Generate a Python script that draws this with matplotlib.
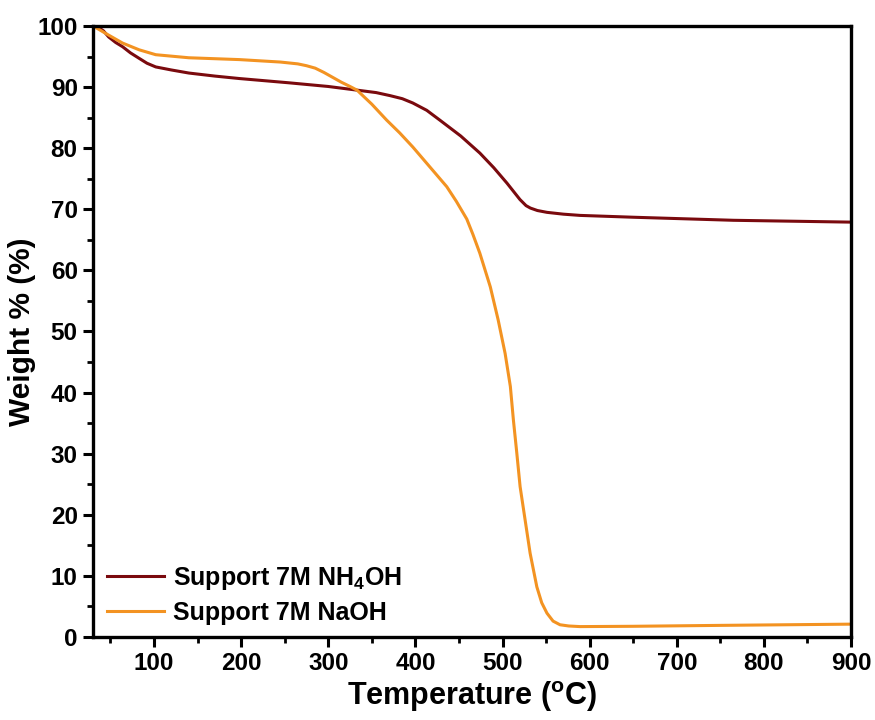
import matplotlib
matplotlib.use("Agg")
import matplotlib.pyplot as plt
from matplotlib.ticker import MultipleLocator

plt.rcParams['font.family'] = ['Liberation Sans', 'DejaVu Sans']
plt.rcParams['font.weight'] = 'bold'
plt.rcParams['mathtext.fontset'] = 'custom'
plt.rcParams['mathtext.rm'] = 'Liberation Sans:bold'
plt.rcParams['mathtext.bf'] = 'Liberation Sans:bold'
plt.rcParams['mathtext.it'] = 'Liberation Sans:bold'

# TGA curves: temperature (°C) vs. remaining weight (%)
temp_nh4oh = [30, 36, 42, 48, 56, 64, 73, 83, 92, 102, 120, 140, 170, 198, 255,
              300, 333, 355, 371, 385, 397, 413, 428, 452, 474, 490, 505, 520,
              527, 532, 540, 551, 570, 589, 650, 765, 900]
weight_nh4oh = [100, 99.8, 99.2, 98.2, 97.3, 96.6, 95.6, 94.7, 93.9, 93.3, 92.8,
                92.3, 91.8, 91.4, 90.7, 90.1, 89.5, 89.1, 88.6, 88.1, 87.4, 86.2,
                84.6, 82.0, 79.2, 76.8, 74.3, 71.6, 70.6, 70.2, 69.8, 69.5, 69.2,
                69.0, 68.7, 68.2, 67.9]

temp_naoh = [30, 36, 48, 64, 83, 102, 140, 198, 245, 265, 275, 285, 295, 305,
             315, 325, 333, 350, 367, 382, 397, 415, 436, 447, 459, 466, 474, 486,
             495, 503, 509, 512.5, 516.4, 520.2, 526, 531.7, 539.4, 545, 551, 558,
             566, 576, 589, 650, 750, 900]
weight_naoh = [100, 99.5, 98.5, 97.2, 96.1, 95.3, 94.8, 94.5, 94.1, 93.8, 93.5,
               93.1, 92.4, 91.6, 90.8, 90.1, 89.5, 87.2, 84.6, 82.5, 80.2, 77.2,
               73.7, 71.3, 68.4, 65.9, 62.8, 57.3, 51.9, 46.4, 41.0, 35.5, 30.1,
               24.6, 19.1, 13.7, 8.2, 5.6, 3.9, 2.6, 2.0, 1.8, 1.7, 1.75, 1.9, 2.1]

labels = [r'Support 7M NH$_{4}$OH', 'Support 7M NaOH']
colors = ['#7A0A0E', '#F39322']

fig = plt.figure(figsize=(8.75, 7.2), dpi=100)
ax = fig.add_axes([0.1063, 0.1153, 0.8663, 0.8486])

ax.plot(temp_nh4oh, weight_nh4oh, color=colors[0], lw=2.2, label=labels[0],
        solid_joinstyle='round')
ax.plot(temp_naoh, weight_naoh, color=colors[1], lw=2.2, label=labels[1],
        solid_joinstyle='round')

ax.set_xlim(30, 900)
ax.set_ylim(0, 100)
ax.set_xticks(range(100, 901, 100))
ax.xaxis.set_minor_locator(MultipleLocator(50))
ax.yaxis.set_major_locator(MultipleLocator(10))
ax.yaxis.set_minor_locator(MultipleLocator(5))

for s in ax.spines.values():
    s.set_linewidth(2.4)
ax.tick_params(which='major', direction='out', length=7, width=2.2,
               labelsize=17.5, pad=4)
ax.tick_params(which='minor', direction='out', length=4, width=2.0)
for lab in ax.get_xticklabels() + ax.get_yticklabels():
    lab.set_fontweight('bold')

ax.set_xlabel(r'Temperature ($^{\mathrm{o}}$C)', fontsize=22, fontweight='bold',
              labelpad=3)
ax.set_ylabel('Weight % (%)', fontsize=21.5, fontweight='bold', labelpad=1)

leg = ax.legend(loc='lower left', frameon=False, fontsize=18,
                handlelength=2.3, handletextpad=0.35, labelspacing=0.35,
                borderpad=0, borderaxespad=0, bbox_to_anchor=(0.018, 0.02))
for t in leg.get_texts():
    t.set_fontweight('bold')

fig.savefig('out.png', dpi=100)
